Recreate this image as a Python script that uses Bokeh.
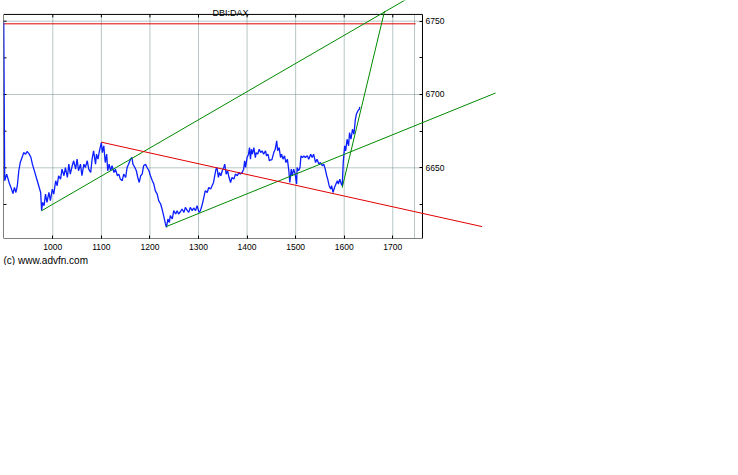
import math
from bokeh.plotting import figure
from bokeh.models import Range1d, LinearAxis, FixedTicker, Label, Title
from bokeh.embed import file_html
from bokeh.resources import INLINE

# ---- chart data ----
price_x = [
    899, 901, 905, 907, 911, 915, 918, 921, 924, 927,
    930, 933, 938, 940, 944, 947, 951, 955, 958, 961,
    964, 968, 971, 975, 977, 979, 982, 985, 988, 992,
    995, 999, 1002, 1006, 1009, 1012, 1016, 1019, 1023, 1026,
    1030, 1033, 1036, 1040, 1043, 1047, 1050, 1053, 1057, 1060,
    1064, 1067, 1071, 1074, 1078, 1081, 1084, 1088, 1090, 1093,
    1096, 1100, 1102, 1105, 1108, 1111, 1113, 1116, 1119, 1122,
    1126, 1129, 1133, 1136, 1139, 1143, 1146, 1150, 1153, 1156,
    1160, 1163, 1165, 1169, 1172, 1175, 1178, 1181, 1184, 1187,
    1191, 1194, 1198, 1201, 1205, 1208, 1211, 1215, 1218, 1222,
    1225, 1229, 1232, 1234, 1237, 1240, 1242, 1246, 1249, 1253,
    1256, 1259, 1263, 1266, 1270, 1273, 1277, 1280, 1283, 1287,
    1290, 1294, 1297, 1301, 1304, 1308, 1311, 1314, 1318, 1321,
    1325, 1328, 1331, 1334, 1336, 1338, 1341, 1343, 1346, 1349,
    1352, 1354, 1357, 1360, 1362, 1366, 1369, 1373, 1376, 1380,
    1383, 1386, 1390, 1393, 1395, 1397, 1400, 1403, 1405, 1407,
    1409, 1411, 1414, 1417, 1419, 1422, 1425, 1428, 1431, 1434,
    1438, 1440, 1443, 1446, 1448, 1451, 1455, 1458, 1461, 1463,
    1466, 1469, 1471, 1474, 1477, 1480, 1483, 1486, 1488, 1491,
    1493, 1496, 1499, 1502, 1503, 1506, 1509, 1511, 1514, 1517,
    1520, 1524, 1527, 1531, 1534, 1537, 1541, 1544, 1548, 1551,
    1555, 1558, 1561, 1564, 1566, 1569, 1572, 1574, 1577, 1580,
    1583, 1586, 1588, 1591, 1594, 1596, 1598, 1601, 1603, 1606,
    1609, 1611, 1614, 1617, 1620, 1623, 1625, 1628, 1631, 1632,
]
price_y = [
    6749.0, 6641.2, 6645.7, 6643.4, 6638.9, 6635.5, 6632.5, 6636.6, 6633.2, 6637.8,
    6648.0, 6653.6, 6658.2, 6660.4, 6659.3, 6661.1, 6659.7, 6657.0, 6652.5, 6649.1,
    6645.7, 6641.2, 6637.8, 6633.2, 6620.8, 6626.4, 6624.2, 6632.1, 6626.4, 6633.2,
    6627.6, 6635.5, 6632.1, 6641.2, 6637.8, 6644.6, 6642.3, 6649.1, 6644.6, 6650.2,
    6643.4, 6652.5, 6645.7, 6651.4, 6654.8, 6649.1, 6655.9, 6648.0, 6652.5, 6644.6,
    6652.5, 6650.2, 6654.8, 6649.1, 6646.8, 6656.1, 6661.6, 6652.5, 6659.3, 6655.9,
    6661.6, 6667.2, 6660.4, 6665.0, 6653.6, 6659.3, 6648.0, 6652.5, 6648.0, 6651.4,
    6646.8, 6649.1, 6644.6, 6645.7, 6642.3, 6641.2, 6645.7, 6643.4, 6650.2, 6652.5,
    6655.9, 6657.0, 6652.5, 6650.2, 6648.0, 6643.4, 6640.0, 6644.6, 6645.7, 6651.4,
    6652.5, 6650.2, 6648.0, 6644.6, 6641.2, 6638.9, 6634.4, 6632.1, 6627.6, 6625.3,
    6621.9, 6616.2, 6611.7, 6609.4, 6615.1, 6612.8, 6617.4, 6615.1, 6620.8, 6618.5,
    6620.8, 6618.5, 6620.2, 6621.9, 6619.6, 6623.0, 6620.8, 6619.6, 6623.0, 6620.8,
    6622.6, 6620.8, 6624.2, 6619.6, 6620.8, 6625.3, 6629.8, 6634.4, 6633.2, 6636.6,
    6635.5, 6637.8, 6640.0, 6645.7, 6649.1, 6650.2, 6643.4, 6646.8, 6644.6, 6648.0,
    6650.2, 6652.5, 6645.7, 6648.0, 6644.6, 6640.0, 6643.4, 6642.3, 6645.7, 6644.6,
    6646.8, 6645.7, 6646.8, 6649.1, 6654.8, 6650.2, 6657.0, 6659.3, 6663.8, 6655.9,
    6662.7, 6659.3, 6663.8, 6657.0, 6660.4, 6659.3, 6662.7, 6660.4, 6661.6, 6659.3,
    6661.6, 6658.2, 6659.3, 6654.8, 6655.4, 6655.4, 6660.4, 6662.7, 6668.4, 6661.6,
    6663.8, 6657.0, 6659.3, 6655.9, 6658.2, 6653.6, 6655.9, 6648.0, 6640.0, 6649.1,
    6644.6, 6649.1, 6645.7, 6638.9, 6650.2, 6648.0, 6650.2, 6658.2, 6657.0, 6658.2,
    6657.0, 6658.2, 6655.9, 6659.3, 6657.0, 6659.3, 6653.6, 6655.9, 6652.5, 6653.6,
    6651.4, 6652.5, 6649.1, 6644.6, 6642.3, 6637.8, 6635.5, 6637.8, 6633.2, 6636.6,
    6638.9, 6641.2, 6638.9, 6642.3, 6638.9, 6637.8, 6653.6, 6665.0, 6661.6, 6669.5,
    6665.0, 6674.0, 6669.5, 6676.3, 6672.9, 6683.1, 6686.5, 6688.8, 6689.9, 6691.5,
]

# trend lines (start / end points)
green_x0 = [976.7, 1233.5, 1595.8]
green_y0 = [6620.7, 6609.9, 6636.4]
green_x1 = [1757.0, 1911.5, 1683.0]
green_y1 = [6770.5, 6701.0, 6756.8]
red_x0 = [1099.6]
red_y0 = [6667.5]
red_x1 = [1884.0]
red_y1 = [6609.9]

# level line (red horizontal near the top)
level_y = [6748.2]
level_x0 = [898.5]
level_x1 = [1747.0]

# axes
x_ticks = [1000, 1100, 1200, 1300, 1400, 1500, 1600, 1700]
marker_x = [1744.7]
y_ticks = [6650, 6700, 6750]
y_minor = [6625, 6675, 6725]

# chart box limits (data units) and the wider drawing view
box_x0, box_x1 = 898.5, 1761.2
box_y0, box_y1 = 6601.8, 6754.6
view_x1, view_y1 = 1921.8, 6764.1

FONT = "Liberation Sans"
GRID = "#6f8c8c"

p = figure(frame_width=497, frame_height=238,
           x_range=Range1d(box_x0, view_x1), y_range=Range1d(box_y0, view_y1),
           x_axis_type=None, y_axis_type=None,
           output_backend="svg", toolbar_location=None,
           min_border_left=3, min_border_right=0, min_border_top=0, min_border_bottom=0)
p.outline_line_color = None
p.background_fill_color = "white"
p.border_fill_color = "white"

# grid
gx = x_ticks + marker_x
p.segment(x0=gx, y0=[box_y0] * len(gx), x1=gx, y1=[box_y1] * len(gx),
          line_color=GRID, line_dash="1 1", line_width=1)
p.segment(x0=[box_x0] * len(y_ticks), y0=y_ticks, x1=[box_x1] * len(y_ticks), y1=y_ticks,
          line_color=GRID, line_dash="1 1", line_width=1)

# level line
p.segment(x0=level_x0, y0=level_y, x1=level_x1, y1=level_y, line_color="#e00000", line_width=1)

# box
p.quad(left=[box_x0], right=[box_x1], bottom=[box_y0], top=[box_y1],
       fill_color=None, line_color="black", line_width=1)

# inward ticks on the left and top edges of the box
yt_all = y_ticks + y_minor
p.ray(x=[box_x0] * len(yt_all), y=yt_all, length=3, length_units="screen",
      angle=0, line_color="black", line_width=1)
p.ray(x=x_ticks, y=[box_y1] * len(x_ticks), length=3, length_units="screen",
      angle=-math.pi / 2, line_color="black", line_width=1)

# price
p.line(price_x, price_y, line_color="#0a1eff", line_width=1.3)

# trend lines
p.segment(x0=green_x0, y0=green_y0, x1=green_x1, y1=green_y1, line_color="#008a00", line_width=1)
p.segment(x0=red_x0, y0=red_y0, x1=red_x1, y1=red_y1, line_color="#e00000", line_width=1)

# axes
bottom = LinearAxis(ticker=FixedTicker(ticks=x_ticks), axis_line_color=None,
                    major_tick_in=3, major_tick_out=0, minor_tick_in=0, minor_tick_out=0,
                    major_label_text_font=FONT, major_label_text_font_size="8.5px",
                    major_label_text_color="black", major_label_standoff=5)
p.add_layout(bottom, "below")

right = LinearAxis(ticker=FixedTicker(ticks=y_ticks, minor_ticks=y_minor), fixed_location=box_x1,
                   axis_line_color=None,
                   major_tick_in=3, major_tick_out=0, minor_tick_in=3, minor_tick_out=0,
                   major_label_text_font=FONT, major_label_text_font_size="8.5px",
                   major_label_text_color="black", major_label_standoff=3)
p.add_layout(right, "right")

p.add_layout(Label(x=227, y=226, x_units="screen", y_units="screen", text="DBI:DAX",
                   text_font=FONT, text_font_size="9px", text_align="center",
                   text_color="black", text_baseline="alphabetic"))

p.add_layout(Title(text="(c) www.advfn.com", align="left", text_font=FONT,
                   text_font_size="10px", text_font_style="normal", text_color="black",
                   standoff=0), "below")

open("out.html", "w").write(file_html(p, INLINE))
